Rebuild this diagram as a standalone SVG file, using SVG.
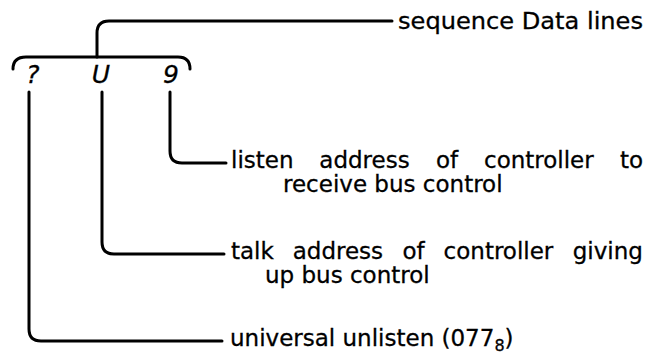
<svg xmlns="http://www.w3.org/2000/svg" width="647" height="358" viewBox="0 0 647 358">
<style>
.c{fill:none;stroke:#000;stroke-width:3;stroke-linecap:round;stroke-linejoin:round}
.t{font-family:"DejaVu Sans","Liberation Sans",sans-serif;font-size:23px;fill:#000;stroke:#000;stroke-width:0.3}
.s{font-family:"DejaVu Sans","Liberation Sans",sans-serif;font-size:25px;font-style:italic;fill:#000;stroke:#000;stroke-width:0.3}
</style>
<rect width="647" height="358" fill="#fff"/>
<g id="connectors">
<path class="c" d="M13,69 Q13,57 26,57 L178,57 Q190,57 190,69"/>
<path class="c" d="M97,57 V33 Q97,21 109,21 H392"/>
<path class="c" d="M170,92 V151 Q170,163 182,163 H226"/>
<path class="c" d="M102,92 V242 Q102,254 114,254 H224"/>
<path class="c" d="M29,92 V329 Q29,341 41,341 H222"/>
</g>
<g id="seq">
<text class="s" x="33" y="83" text-anchor="middle">?</text>
<text class="s" x="101" y="83" text-anchor="middle">U</text>
<text class="s" x="171" y="83" text-anchor="middle">9</text>
</g>
<g id="data-lines"><text class="t" x="398" y="29" textLength="245" lengthAdjust="spacingAndGlyphs">sequence Data lines</text></g>
<g id="listen">
<text class="t" y="168"><tspan x="231">listen</tspan><tspan x="319.3">address</tspan><tspan x="436">of</tspan><tspan x="484">controller</tspan><tspan x="620">to</tspan></text>
<text class="t" x="283" y="192">receive bus control</text>
</g>
<g id="talk">
<text class="t" y="259"><tspan x="231">talk</tspan><tspan x="292.7">address</tspan><tspan x="402.5">of</tspan><tspan x="443.6">controller</tspan><tspan x="572.7">giving</tspan></text>
<text class="t" x="265" y="283">up bus control</text>
</g>
<g id="unlisten">
<text class="t" x="230" y="346">universal unlisten (077<tspan font-size="16" dy="5">8</tspan><tspan dy="-5">)</tspan></text>
</g>
</svg>
